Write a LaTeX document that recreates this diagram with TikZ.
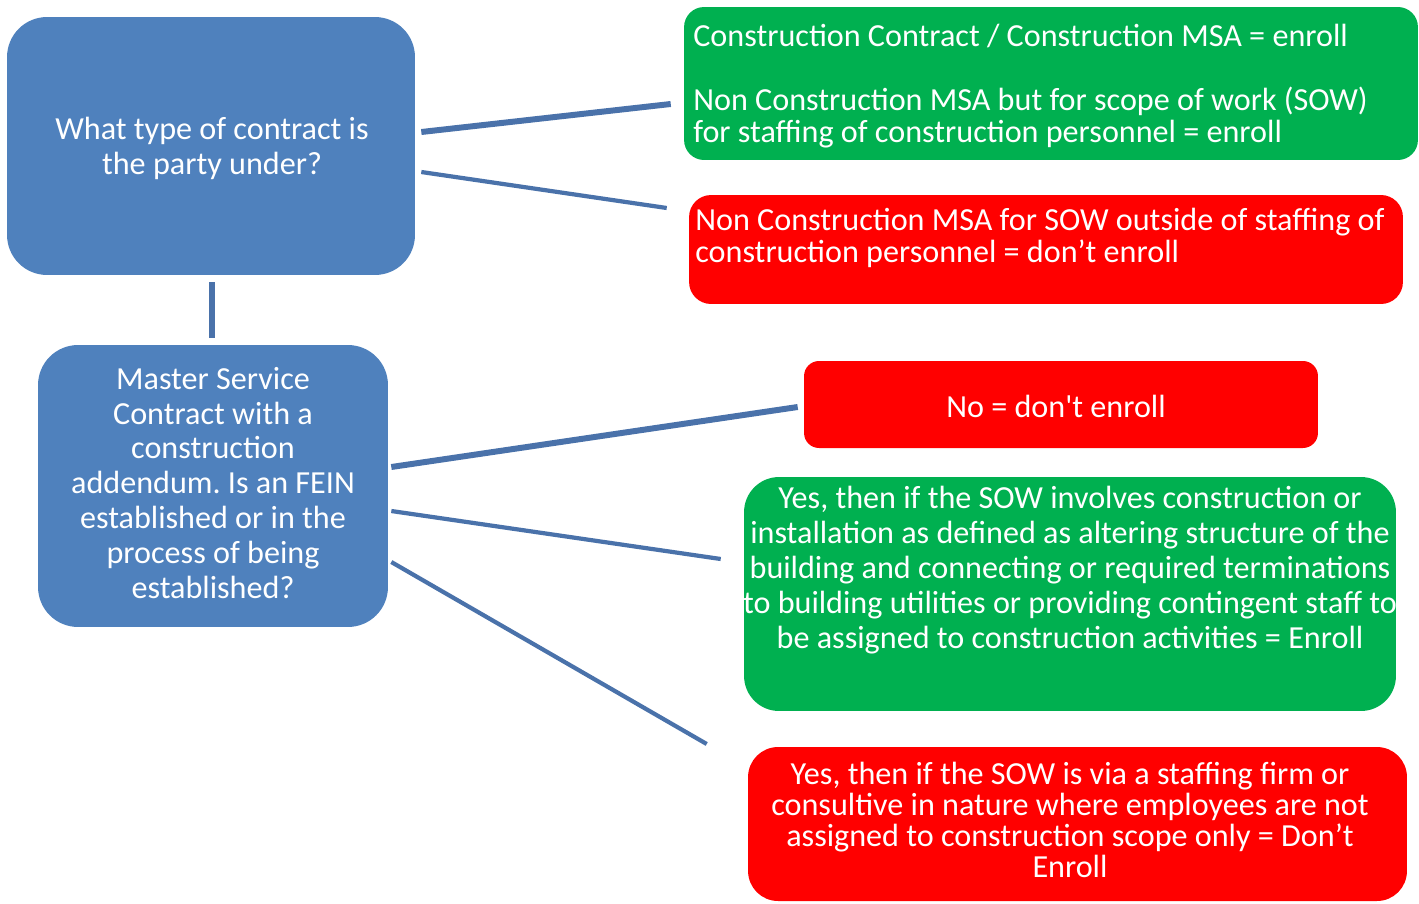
\documentclass[tikz,border=0pt]{standalone}
\usepackage{fontspec}
\setmainfont{Carlito}
\frenchspacing
\usepackage{tikz}
\usetikzlibrary{positioning, calc}
\definecolor{qblue}{HTML}{4F81BD}
\definecolor{okgreen}{HTML}{00B050}
\definecolor{nored}{HTML}{FF0000}
\definecolor{linkblue}{HTML}{4A72AA}

\begin{document}
\begin{tikzpicture}[
  x=0.02cm, y=-0.02cm,
  box/.style={draw=none, inner sep=0pt},
  qbox/.style={box, fill=qblue, rounded corners=0.8cm},
  yesbox/.style={box, fill=okgreen},
  nobox/.style={box, fill=nored},
  txt/.style={text=white, inner sep=0pt, font=\fontsize{18.3}{19.9}\selectfont},
  link/.style={draw=linkblue, line width=2.4pt},
  boldlink/.style={draw=linkblue, line width=3.4pt}
]
  \useasboundingbox (0,0) rectangle (1419,903);

  % Questions
  \node[qbox, minimum width=8.16cm, minimum height=5.16cm] (qtype) at (211,146) {};
  \node[txt, align=center] (qtypetxt) at (212,148) {What type of contract is\\the party under?};

  \node[qbox, minimum width=7.0cm, minimum height=5.64cm] (msa) at (213,486) {};
  \node[txt, align=center] (msatxt) at (213,483) {Master Service\\Contract with a\\construction\\addendum. Is an FEIN\\established or in the\\process of being\\established?};

  % Contract type answers
  \node[yesbox, rounded corners=0.4cm, minimum width=14.68cm, minimum height=3.06cm] (enrolla) at (1051,83.5) {};
  \node[txt, align=left, anchor=west, font=\fontsize{18.3}{18.2}\selectfont] (enrollatxt) at (693,86) {Construction Contract / Construction MSA = enroll\\[18.2pt]Non Construction MSA but for scope of work (SOW)\\for staffing of construction personnel = enroll};

  \node[nobox, rounded corners=0.44cm, minimum width=14.28cm, minimum height=2.18cm] (noenrolla) at (1046,249.5) {};
  \node[txt, align=left, anchor=west, font=\fontsize{18.3}{18.2}\selectfont] (noenrollatxt) at (695,238) {Non Construction MSA for SOW outside of staffing of\\construction personnel = don’t enroll};

  % FEIN answers
  \node[nobox, rounded corners=0.3cm, minimum width=10.28cm, minimum height=1.74cm] (noenrollb) at (1061,404.5) {};
  \node[txt] (noenrollbtxt) at (1056,406) {No = don\textquotesingle t enroll};

  \node[yesbox, rounded corners=0.7cm, minimum width=13.04cm, minimum height=4.68cm] (enrollb) at (1070,594) {};
  \node[txt, align=center] (enrollbtxt) at (1070,570) {Yes, then if the SOW involves construction or\\installation as defined as altering structure of the\\building and connecting or required terminations\\to building utilities or providing contingent staff to\\be assigned to construction activities = Enroll};

  \node[nobox, rounded corners=0.6cm, minimum width=13.18cm, minimum height=3.08cm] (noenrollc) at (1077.5,824) {};
  \node[txt, align=center, font=\fontsize{18.3}{17.6}\selectfont] (noenrollctxt) at (1070,820) {Yes, then if the SOW is via a staffing firm or\\consultive in nature where employees are not\\assigned to construction scope only = Don’t\\Enroll};

  % Links
  \draw[boldlink] ([shift={(6,-14)}]qtype.east) -- ([shift={(-13,20.5)}]enrolla.west);
  \draw[link] ([shift={(6,26)}]qtype.east) -- ([shift={(-22,-41.5)}]noenrolla.west);
  \draw[boldlink] ([shift={(1,7)}]qtype.south) -- ([shift={(-1,-7)}]msa.north);
  \draw[boldlink] ([shift={(3,-19)}]msa.east) -- ([shift={(-6,2.5)}]noenrollb.west);
  \draw[link] ([shift={(3,25)}]msa.east) -- ([shift={(-23,-35)}]enrollb.west);
  \draw[link] ([shift={(3,76)}]msa.east) -- ([shift={(-41,-80)}]noenrollc.west);
\end{tikzpicture}
\end{document}
